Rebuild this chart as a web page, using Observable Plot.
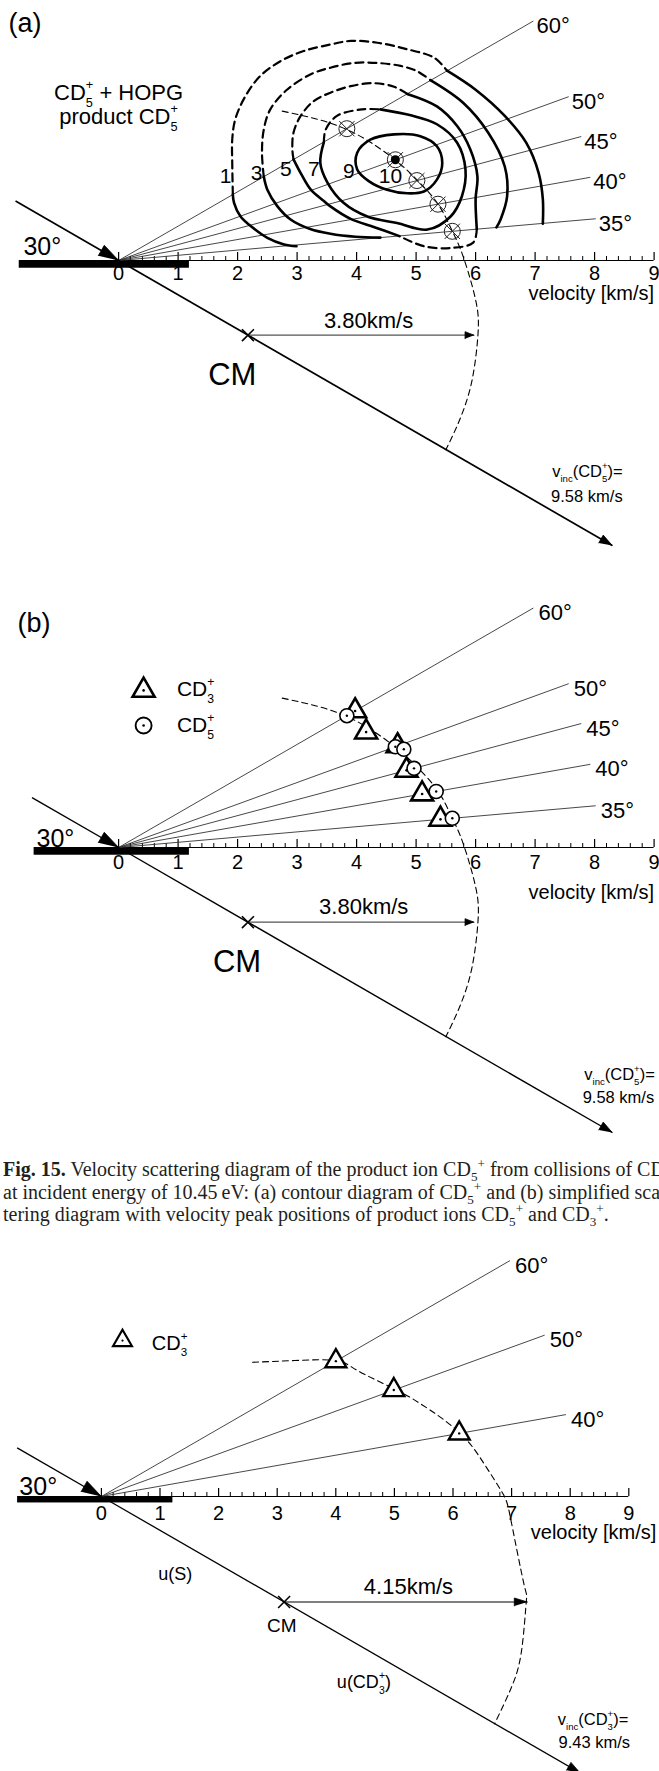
<!DOCTYPE html>
<html>
<head>
<meta charset="utf-8">
<script src="https://cdn.jsdelivr.net/npm/d3@7"></script>
<script src="https://cdn.jsdelivr.net/npm/@observablehq/plot@0.6"></script>
<style>
  html, body { margin: 0; padding: 0; background: #fff; }
  #page { position: relative; width: 659px; height: 1771px; overflow: hidden; background: #fff; }
  #page svg { position: absolute; left: 0; }
  #caption { position: absolute; left: 0; top: 1150px; width: 656px; padding: 8px 0 10px 3px; white-space: nowrap; overflow: hidden;
    font-family: "Liberation Serif", "Times New Roman", serif; font-size: 20px; line-height: 22.5px; color: #231f20; }
  #caption sub, #caption sup { font-size: 0.66em; line-height: 0; }
</style>
</head>
<body>
<div id="page">
  <div id="caption"><b>Fig. 15.</b> Velocity scattering diagram of the product ion CD<sub>5</sub><sup>+</sup> from collisions of CD<sub>5</sub><sup>+</sup><br>at incident energy of 10.45&thinsp;eV: (a) contour diagram of CD<sub>5</sub><sup>+</sup> and (b) simplified scat-<br>tering diagram with velocity peak positions of product ions CD<sub>5</sub><sup>+</sup> and CD<sub>3</sub><sup>+</sup>.</div>
</div>
<script>
// ================= DATA (all values in km/s, x along surface, y normal) =================
const velTicks = [0, 1, 2, 3, 4, 5, 6, 7, 8, 9];
const velMinorTicks = d3.range(0, 9.001, 0.2).filter(v => Math.abs(v - Math.round(v)) > 1e-6);

const raysAB = [60, 50, 45, 40, 35];      // detection angles, panels (a),(b)
const raysC = [60, 50, 40];               // detection angles, panel (c)
const rayLength = 8.05;

const vIncCD5 = 9.58, vIncCD3 = 9.43;     // incident velocities
const uS_CD5 = 2.51, uS_CD3 = 3.60;       // centre-of-mass velocities
const rNewtonCD5 = 3.80, rNewtonCD3 = 4.15;

// peak positions {angle (deg), speed (km/s)}
const peaksA = [
  {angle: 60, speed: 4.43, max: false},
  {angle: 50, speed: 4.95, max: true},
  {angle: 45, speed: 5.19, max: false},
  {angle: 40, speed: 5.45, max: false},
  {angle: 35, speed: 5.63, max: false}
];
const peaksB_CD3 = [
  {angle: 60, speed: 4.59}, {angle: 55, speed: 4.59}, {angle: 50, speed: 4.99},
  {angle: 45, speed: 5.01}, {angle: 40, speed: 5.18}, {angle: 35, speed: 5.43}
];
const peaksB_CD5 = [
  {angle: 60, speed: 4.43}, {angle: 50, speed: 4.95}, {angle: 49, speed: 5.07},
  {angle: 45, speed: 5.14}, {angle: 40, speed: 5.42}, {angle: 35, speed: 5.63}
];
const peaksC_CD3 = [
  {angle: 60, speed: 4.62}, {angle: 50, speed: 5.31}, {angle: 40, speed: 6.20}
];

// Newton circle arcs
const newtonArcAB = [[2.75,2.51],[3.84,2.20],[4.66,1.68],[5.01,1.36],[5.36,0.96],[5.61,0.49],[5.79,0.07],[6.00,-0.66],[6.04,-1.24],[5.93,-2.06],[5.71,-2.73],[5.50,-3.18]];
const newtonArcC = [[2.58,2.29],[3.30,2.32],[4.00,2.32],[4.37,2.15],[4.99,1.84],[5.45,1.58],[6.10,1.10],[6.53,0.56],[6.85,0.05],[6.99,-0.41],[7.21,-1.49],[7.25,-1.80],[7.17,-2.63],[7.00,-3.25],[6.71,-3.88]];

// contour lines of CD5+ intensity (panel a)
const c1Left  = [[2.99,0.24],[2.78,0.27],[2.50,0.38],[2.22,0.58],[2.05,0.74],[1.94,0.97],[1.92,1.11]];
const c1Dash  = [[1.92,1.11],[1.91,1.64],[1.91,2.03],[1.96,2.37],[2.13,2.76],[2.38,3.10],[2.72,3.35],[3.11,3.52],[3.56,3.63],[3.90,3.69],[4.35,3.66],[4.85,3.55],[5.30,3.41],[5.52,3.19]];
const c1Right = [[5.52,3.19],[6.00,2.87],[6.49,2.43],[6.85,1.98],[7.06,1.47],[7.13,1.03],[7.13,0.62]];
const c3Left  = [[4.40,0.385],[3.98,0.40],[3.56,0.45],[3.22,0.53],[2.89,0.69],[2.67,0.91],[2.50,1.19],[2.44,1.41]];
const c3Dash  = [[2.44,1.41],[2.41,1.81],[2.44,2.20],[2.55,2.54],[2.83,2.87],[3.23,3.13],[3.56,3.24],[3.95,3.32],[4.35,3.32],[4.74,3.27],[5.02,3.18],[5.24,3.03]];
const c3Right = [[5.24,3.03],[5.79,2.65],[6.21,2.15],[6.49,1.58],[6.53,1.08],[6.42,0.69],[6.35,0.556]];
const c5Left  = [[2.94,1.70],[3.06,1.47],[3.23,1.19],[3.45,1.00],[3.56,0.91],[3.90,0.70],[4.30,0.56],[4.72,0.41]];
const c5Dash  = [[2.94,1.70],[2.92,1.87],[2.94,2.15],[3.06,2.43],[3.28,2.68],[3.56,2.82],[3.90,2.93],[4.29,2.98],[4.63,2.92],[4.85,2.80]];
const c5Right = [[4.85,2.80],[5.35,2.59],[5.69,2.26],[5.91,1.87],[6.03,1.42],[6.00,1.03],[6.02,0.53]];
const c5Bottom = [[6.02,0.53],[5.96,0.30],[5.58,0.21],[5.13,0.24],[4.72,0.41]];
const c7Solid = [[4.40,2.54],[4.91,2.44],[5.35,2.29],[5.69,1.98],[5.83,1.53],[5.77,1.08],[5.58,0.74],[5.19,0.52],[4.68,0.63],[4.18,0.74],[3.78,0.97],[3.51,1.31],[3.39,1.64],[3.45,1.99]];
const c7Dash  = [[3.45,1.99],[3.48,2.20],[3.67,2.43],[4.09,2.54],[4.40,2.54]];
const c9Loop  = [[4.01,1.81],[4.23,2.03],[4.63,2.12],[5.07,2.09],[5.35,1.92],[5.44,1.64],[5.35,1.36],[5.13,1.16],[4.85,1.13],[4.51,1.19],[4.21,1.33],[4.01,1.53]];
const contourLabels = [
  {t: "1", x: 1.80, y: 1.42}, {t: "3", x: 2.32, y: 1.47}, {t: "5", x: 2.81, y: 1.53},
  {t: "7", x: 3.28, y: 1.53}, {t: "9", x: 3.87, y: 1.50}, {t: "10", x: 4.57, y: 1.42}
];

// ================= LAYOUT =================
const W = 659;
const deg = Math.PI / 180;
const polar = (angle, speed) => [speed * Math.cos((angle - 30) * deg), speed * Math.sin((angle - 30) * deg)];
const px = d => polar(d.angle, d.speed)[0];
const py = d => polar(d.angle, d.speed)[1];

function headPts(x1, y1, x2, y2, lenPx, halfPx, k, id) {
  const dx = x2 - x1, dy = y2 - y1, L = Math.hypot(dx, dy), ux = dx / L, uy = dy / L;
  const bl = lenPx / k, hw = halfPx / k;
  const bx = x2 - ux * bl, by = y2 - uy * bl;
  return [{x: x2, y: y2, id}, {x: bx - uy * hw, y: by + ux * hw, id}, {x: bx + uy * hw, y: by - ux * hw, id}];
}

function labelMarks(labels) {
  return ["start", "middle", "end"].map(a =>
    Plot.text(labels.filter(d => (d.a || "middle") === a), {x: "x", y: "y", text: "t", fontSize: "fs", textAnchor: a}));
}

function diagram(L, D) {
  const k = L.k;
  const ux = Math.cos(-30 * deg), uy = Math.sin(-30 * deg);
  const start = {x: -L.inLen * ux, y: -L.inLen * uy};
  const end = {x: D.vinc * ux, y: D.vinc * uy};
  const cm = {x: D.uS * ux, y: D.uS * uy};
  const rEnd = {x: cm.x + D.r, y: cm.y};
  const heads = [
    ...headPts(start.x, start.y, 0, 0, 20, 6, k, "in"),
    ...headPts(0, 0, end.x, end.y, L.vHead[0], L.vHead[1], k, "out"),
    ...headPts(cm.x, cm.y, rEnd.x, rEnd.y, L.rHead[0], L.rHead[1], k, "r")
  ];
  const re = a => polar(a, rayLength);
  return [
    Plot.rect([L.bar], {x1: "x1", x2: "x2", y1: "y1", y2: "y2", fill: "black"}),
    Plot.ruleY([0], {x1: 0, x2: 9, stroke: "black", strokeWidth: 1.1}),
    Plot.ruleX(velMinorTicks, {x: d => d, y1: 0, y2: 4 / k, stroke: "black", strokeWidth: 1}),
    Plot.ruleX(velTicks, {x: d => d, y1: 0, y2: 8 / k, stroke: "black", strokeWidth: 1.2}),
    Plot.text(velTicks, {x: d => d, y: 0, text: d => String(d), dy: L.tickDy, fontSize: 20}),
    Plot.link(D.rays, {x1: 0, y1: 0, x2: a => re(a)[0], y2: a => re(a)[1], stroke: "#333", strokeWidth: 0.9}),
    Plot.text(D.rays, {x: a => re(a)[0], y: a => re(a)[1], text: a => a + "°", textAnchor: "start", dx: L.rayDx, dy: L.rayDy, fontSize: 22}),
    Plot.line(D.arc, {x: d => d[0], y: d => d[1], curve: "natural", stroke: "black", strokeWidth: 1.1, strokeDasharray: "6,4"}),
    Plot.link([0], {x1: start.x, y1: start.y, x2: 0, y2: 0, stroke: "black", strokeWidth: L.lw}),
    Plot.link([0], {x1: 0, y1: 0, x2: end.x, y2: end.y, stroke: "black", strokeWidth: L.lw}),
    Plot.link([0], {x1: cm.x, y1: cm.y, x2: rEnd.x, y2: rEnd.y, stroke: L.rColor, strokeWidth: 1.2}),
    Plot.line(heads, {x: "x", y: "y", z: "id", fill: "black", stroke: "black", strokeWidth: 0.8}),
    Plot.dot([cm], {x: "x", y: "y", symbol: "times", r: L.cmR, stroke: "black", strokeWidth: 1.6})
  ];
}

function makePlot(L, marks) {
  const svg = Plot.plot({
    width: W, height: L.height, margin: 0,
    x: {domain: [-L.ox / L.k, (W - L.ox) / L.k], axis: null},
    y: {domain: [(L.oy - L.top - L.height) / L.k, (L.oy - L.top) / L.k], axis: null},
    style: {fontFamily: "'Liberation Sans', Arial, Helvetica, sans-serif", background: "none", overflow: "visible", color: "black"},
    marks
  });
  svg.style.top = L.top + "px";
  return svg;
}

// ---- panel (a)
const LA = {top: 0, height: 560, ox: 118.1, oy: 260, k: 59.5, inLen: 2.0,
  bar: {x1: -1.67, x2: 1.19, y1: -0.13, y2: 0}, tickDy: 13, rayDx: 3, rayDy: 5, lw: 1.7,
  vHead: [13, 4.5], rHead: [9, 3.5], rColor: "#555", cmR: 5.5,
  labels: [
    {t: "(a)", x: -1.85, y: 3.98, fs: 27, a: "start"},
    {t: "CD[5|+] + HOPG", x: 0.0, y: 2.82, fs: 22},
    {t: "product CD[5|+]", x: 0.0, y: 2.42, fs: 22},
    {t: "30°", x: -1.60, y: 0.23, fs: 25, a: "start"},
    {t: "velocity [km/s]", x: 9.0, y: -0.55, fs: 20, a: "end"},
    {t: "3.80km/s", x: 4.20, y: -1.01, fs: 22},
    {t: "CM", x: 1.91, y: -1.92, fs: 31},
    {t: "v[inc|](CD[5|+])=", x: 7.88, y: -3.55, fs: 16.5},
    {t: "9.58 km/s", x: 7.87, y: -3.97, fs: 16.5},
    ...contourLabels.map(d => ({...d, fs: 21}))
  ]};
const contourParts = [
  {id: "1L", s: "solid", p: c1Left}, {id: "1D", s: "dash", p: c1Dash}, {id: "1R", s: "solid", p: c1Right},
  {id: "3L", s: "solid", p: c3Left}, {id: "3D", s: "dash", p: c3Dash}, {id: "3R", s: "solid", p: c3Right},
  {id: "5L", s: "solid", p: c5Left}, {id: "5D", s: "dash", p: c5Dash}, {id: "5R", s: "solid", p: c5Right}, {id: "5B", s: "dash", p: c5Bottom},
  {id: "7S", s: "solid", p: c7Solid}, {id: "7D", s: "dash", p: c7Dash}
];
const flat = s => contourParts.filter(c => c.s === s).flatMap(c => c.p.map(([x, y]) => ({x, y, id: c.id})));

const marksA = [
  ...diagram(LA, {rays: raysAB, vinc: vIncCD5, uS: uS_CD5, r: rNewtonCD5, arc: newtonArcAB}),
  Plot.line(flat("solid"), {x: "x", y: "y", z: "id", curve: "catmull-rom", stroke: "black", strokeWidth: 2.6}),
  Plot.line(flat("dash"), {x: "x", y: "y", z: "id", curve: "catmull-rom", stroke: "black", strokeWidth: 2.2, strokeDasharray: "8,5"}),
  Plot.line(c9Loop, {x: d => d[0], y: d => d[1], curve: "catmull-rom-closed", stroke: "black", strokeWidth: 2.6}),
  Plot.dot(peaksA, {x: px, y: py, r: 8, stroke: "#222", strokeWidth: 1, fill: "none"}),
  Plot.dot(peaksA, {x: px, y: py, symbol: "times", r: 7, stroke: "#222", strokeWidth: 1}),
  Plot.dot(peaksA.filter(d => d.max), {x: px, y: py, r: 4.5, fill: "black"}),
  ...labelMarks(LA.labels)
];

// ---- panel (b)
const LB = {top: 560, height: 585, ox: 118.1, oy: 847, k: 59.5, inLen: 1.68,
  bar: {x1: -1.42, x2: 1.19, y1: -0.13, y2: 0}, tickDy: 15, rayDx: 5, rayDy: 5, lw: 1.4,
  vHead: [13, 4.5], rHead: [9, 3.5], rColor: "#555", cmR: 5.5,
  legendTri: {x: 0.42, y: 2.64}, legendCirc: {x: 0.42, y: 2.05},
  labels: [
    {t: "(b)", x: -1.70, y: 3.76, fs: 27, a: "start"},
    {t: "CD[3|+]", x: 0.98, y: 2.66, fs: 21, a: "start"},
    {t: "CD[5|+]", x: 0.98, y: 2.05, fs: 21, a: "start"},
    {t: "30°", x: -1.38, y: 0.15, fs: 25, a: "start"},
    {t: "velocity [km/s]", x: 9.0, y: -0.76, fs: 20, a: "end"},
    {t: "3.80km/s", x: 4.12, y: -1.0, fs: 22},
    {t: "CM", x: 1.99, y: -1.92, fs: 31},
    {t: "v[inc|](CD[5|+])=", x: 8.42, y: -3.82, fs: 16.5},
    {t: "9.58 km/s", x: 8.40, y: -4.2, fs: 16.5}
  ]};
const marksB = [
  ...diagram(LB, {rays: raysAB, vinc: vIncCD5, uS: uS_CD5, r: rNewtonCD5, arc: newtonArcAB}),
  Plot.dot(peaksB_CD3, {x: px, y: py, symbol: "triangle2", r: 10.5, stroke: "black", strokeWidth: 2.6, fill: "white"}),
  Plot.dot(peaksB_CD3, {x: px, y: py, r: 1.3, fill: "black"}),
  Plot.dot(peaksB_CD5, {x: px, y: py, r: 7, stroke: "black", strokeWidth: 1.6, fill: "white"}),
  Plot.dot(peaksB_CD5, {x: px, y: py, r: 1.2, fill: "black"}),
  Plot.dot([LB.legendTri], {x: "x", y: "y", symbol: "triangle2", r: 10.5, stroke: "black", strokeWidth: 2.6, fill: "white"}),
  Plot.dot([LB.legendTri, LB.legendCirc], {x: "x", y: "y", r: 1.3, fill: "black"}),
  Plot.dot([LB.legendCirc], {x: "x", y: "y", r: 8, stroke: "black", strokeWidth: 1.9, fill: "none"}),
  ...labelMarks(LB.labels)
];

// ---- panel (c)
const LC = {top: 1240, height: 531, ox: 100.9, oy: 1496, k: 58.6, inLen: 1.66,
  bar: {x1: -1.43, x2: 1.22, y1: -0.11, y2: 0}, tickDy: 17, rayDx: 5, rayDy: 5, lw: 1.3,
  vHead: [13, 4.5], rHead: [13, 4], rColor: "black", cmR: 5.5,
  legendTri: {x: 0.36, y: 2.66},
  labels: [
    {t: "CD[3|+]", x: 0.86, y: 2.61, fs: 20, a: "start"},
    {t: "30°", x: -1.40, y: 0.17, fs: 25, a: "start"},
    {t: "velocity [km/s]", x: 9.47, y: -0.62, fs: 20, a: "end"},
    {t: "u(S)", x: 1.26, y: -1.33, fs: 18},
    {t: "CM", x: 3.08, y: -2.21, fs: 19},
    {t: "4.15km/s", x: 5.24, y: -1.54, fs: 22},
    {t: "u(CD[3|+])", x: 4.48, y: -3.17, fs: 18},
    {t: "v[inc|](CD[3|+])=", x: 8.39, y: -3.81, fs: 16.5},
    {t: "9.43 km/s", x: 8.41, y: -4.2, fs: 16.5}
  ]};
const marksC = [
  ...diagram(LC, {rays: raysC, vinc: vIncCD3, uS: uS_CD3, r: rNewtonCD3, arc: newtonArcC}),
  Plot.dot(peaksC_CD3, {x: px, y: py, symbol: "triangle2", r: 10, stroke: "black", strokeWidth: 2.4, fill: "white"}),
  Plot.dot(peaksC_CD3, {x: px, y: py, r: 1.2, fill: "black"}),
  Plot.dot([LC.legendTri], {x: "x", y: "y", symbol: "triangle2", r: 9, stroke: "black", strokeWidth: 2.2, fill: "white"}),
  Plot.dot([LC.legendTri], {x: "x", y: "y", r: 1.1, fill: "black"}),
  ...labelMarks(LC.labels)
];

const page = document.getElementById("page");
[makePlot(LA, marksA), makePlot(LB, marksB), makePlot(LC, marksC)].forEach(s => page.appendChild(s));

// ---- rich text: "[sub|sup]" -> stacked subscript / superscript tspans
const NS = "http://www.w3.org/2000/svg";
page.querySelectorAll("svg text").forEach(t => {
  const s = t.textContent;
  if (!s.includes("[")) return;
  const fs = parseFloat(getComputedStyle(t).fontSize) || 16;
  while (t.firstChild) t.removeChild(t.firstChild);
  let shift = 0, pendingDx = 0, last = 0, m;
  const add = (txt, size, target, dx) => {
    const ts = document.createElementNS(NS, "tspan");
    ts.textContent = txt;
    if (size) ts.setAttribute("font-size", size);
    const dy = target - shift;
    if (dy) ts.setAttribute("dy", dy);
    if (dx) ts.setAttribute("dx", dx);
    shift = target;
    t.appendChild(ts);
    return ts;
  };
  const re = /\[([^|\]]*)\|([^\]]*)\]/g;
  while ((m = re.exec(s))) {
    if (m.index > last) { add(s.slice(last, m.index), null, 0, pendingDx); pendingDx = 0; }
    const sub = m[1], sup = m[2];
    let supW = 0;
    if (sup) { const e = add(sup, fs * 0.58, -0.48 * fs, pendingDx); pendingDx = 0; supW = e.getComputedTextLength(); }
    if (sub) {
      const e = add(sub, fs * 0.58, 0.32 * fs, pendingDx - supW); pendingDx = 0;
      const subW = e.getComputedTextLength();
      if (supW > subW) pendingDx = supW - subW;
    }
    last = re.lastIndex;
  }
  if (last < s.length) add(s.slice(last), null, 0, pendingDx);
});
</script>
</body>
</html>
